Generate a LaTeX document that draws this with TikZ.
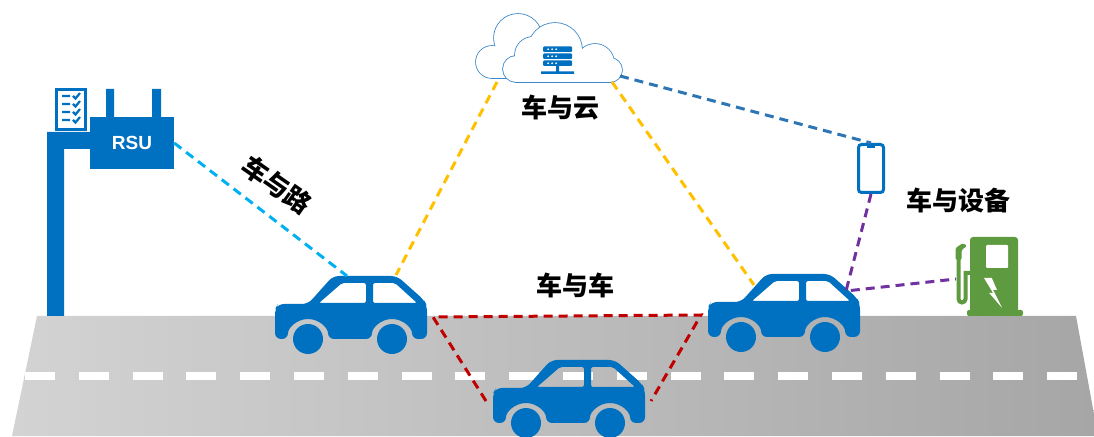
\documentclass[tikz,border=0pt]{standalone}
\usepackage{fontspec}
\setmainfont{Liberation Sans}
\newfontfamily\cjk{Noto Sans CJK SC}
\usetikzlibrary{calc}

\definecolor{CarBlue}{HTML}{0070C0}
\definecolor{CloudBlue}{HTML}{3A86C8}
\definecolor{RoadLight}{HTML}{D3D3D3}
\definecolor{RoadDark}{HTML}{A6A6A6}
\definecolor{PumpGreen}{HTML}{5E9A3F}
\definecolor{LinkCyan}{HTML}{00B0F0}
\definecolor{LinkYellow}{HTML}{FFC000}
\definecolor{LinkBlue}{HTML}{2E75B6}
\definecolor{LinkPurple}{HTML}{7030A0}
\definecolor{LinkRed}{HTML}{C00000}

\tikzset{
  pics/car/.style={code={
    \fill[CarBlue, even odd rule, rounded corners=6]
      (0,0) -- (0,30) -- (3,35) -- (33,35) -- (58,63) -- (122,63) -- (149,39) -- (152,33)
      -- (152,0) -- (137,0) arc[start angle=0, end angle=180, radius=20]
      -- (53,0) arc[start angle=0, end angle=180, radius=20] -- cycle
      [rounded corners=2]
      (44,36) -- (67,56) -- (91,56) -- (91,36) -- cycle
      (98,36) -- (98,56) -- (120,56) -- (142,36) -- cycle;
    \fill[CarBlue] (33,0) circle[radius=15] (117,0) circle[radius=15];
    \coordinate (-roofl) at (72,63);
    \coordinate (-roofr) at (121,64);
    \coordinate (-back) at (46,52);
    \coordinate (-front) at (138,46);
    \coordinate (-lside) at (-7,22);
    \coordinate (-rside) at (158,22);
  }}
}

\begin{document}
\begin{tikzpicture}[x=1pt, y=1pt,
    link/.style={line width=3pt, dash pattern=on 9pt off 6pt},
    linktext/.style={font=\cjk\bfseries\fontsize{26}{30}\selectfont, inner sep=0pt}]
\useasboundingbox (0,0) rectangle (1094,436);
\clip (0,0) rectangle (1094,436);

% road
\shade[left color=RoadLight, right color=RoadDark] (37,120) -- (1076,120) -- (1098,0) -- (12,0) -- cycle;
\draw[white, line width=8pt, dash pattern=on 30pt off 23.8pt] (25,60) -- (1080,60);

% roadside unit
\fill[CarBlue] (47,120) rectangle (64,304) (47,287) rectangle (92,304);
\fill[CarBlue] (106,317) rectangle (114,347) (152,317) rectangle (161,347);
\node[fill=CarBlue, text=white, font=\bfseries\fontsize{19}{20}\selectfont,
      minimum width=84pt, minimum height=52pt, inner sep=0pt] (RSU) at (132,293) {RSU};
\draw[CarBlue, line width=2.5pt, fill=white] (56.5,306.5) rectangle (85.5,346.5);
\foreach \y in {340,332,324,316}
  \draw[CarBlue, line width=2.2pt] (62,\y) -- (70,\y) (73,\y) -- (75.5,\y-2.5) -- (80,\y+3);

% cloud with server (outline first, then white fill on top)
\def\backcloud{(492,374) circle[radius=16] (518,398) circle[radius=24] (540,358) rectangle (492,381)}
\def\frontcloud{(516,367) circle[radius=13] (533,381) circle[radius=18] (555,386) circle[radius=27]
  (595,373) circle[radius=19] (610,366) circle[radius=12] (610,354) rectangle (516,376)}
\draw[CloudBlue, line width=1.6pt] \backcloud;
\fill[white] \backcloud;
\draw[CloudBlue, line width=1.6pt] \frontcloud;
\fill[white] \frontcloud;
\foreach \y in {384,377,370}{
  \fill[CarBlue, rounded corners=1] (543,\y) rectangle (572,\y+5.5);
  \fill[white] (548,\y+2.75) circle[radius=1] (552,\y+2.75) circle[radius=1] (556,\y+2.75) circle[radius=1];
}
\fill[CarBlue] (556,363) rectangle (559,370) (541,362) rectangle (574,364.5);
\coordinate (CloudL) at (497,354);
\coordinate (CloudR) at (612,354);
\coordinate (CloudE) at (620,360);

% vehicles
\pic (car1) at (275,97) {car};
\pic (car2) at (708,99) {car};
\pic (car3) at (493,13) {car};

% phone
\node[draw=CarBlue, line width=3pt, fill=white, rounded corners=3pt,
      minimum width=25pt, minimum height=48pt, inner sep=0pt] (Phone) at (871,267.5) {};
\draw[CarBlue, line width=2pt] (867,289) -- (875,289);

% charging pile
\fill[PumpGreen, rounded corners=3] (970,124) rectangle (1018,199);
\fill[PumpGreen, rounded corners=2] (967,120) rectangle (1023,126);
\fill[white, rounded corners=1] (986,168) rectangle (1008,191);
\fill[white] (984,158) -- (991.8,158) -- (997,146) -- (993.1,146) -- (1002.2,128)
  -- (989.2,143) -- (993.1,143) -- cycle;
\draw[PumpGreen, line width=4pt] (970,163) -- (965.5,163) -- (965.5,137)
  arc[start angle=0, end angle=-180, radius=3.5] -- (958.5,178);
\fill[PumpGreen, rounded corners=1.5] (955.5,176) -- (955.5,188) -- (963,193) -- (967,190)
  -- (961.5,186) -- (961.5,176) -- cycle;
\coordinate (Hose) at (956,157);

% links
\draw[link, LinkCyan] (RSU.east) -- (car1-roofl);
\draw[link, LinkYellow] (CloudL) -- (car1-roofr);
\draw[link, LinkYellow] (CloudR) -- (car2-back);
\draw[link, LinkBlue] (CloudE) -- (Phone.north);
\draw[link, LinkPurple] (Phone.south) -- (car2-front) -- (Hose);
\draw[link, LinkRed] (car3-lside) -- (car1-rside) -- (car2-lside) -- (car3-rside);

% labels
\node[linktext] (V2C) at (560,328) {车与云};
\node[linktext, rotate=-35] (V2R) at (277,251) {车与路};
\node[linktext] (V2V) at (575,151) {车与车};
\node[linktext] (V2D) at (958,236) {车与设备};
\end{tikzpicture}
\end{document}
